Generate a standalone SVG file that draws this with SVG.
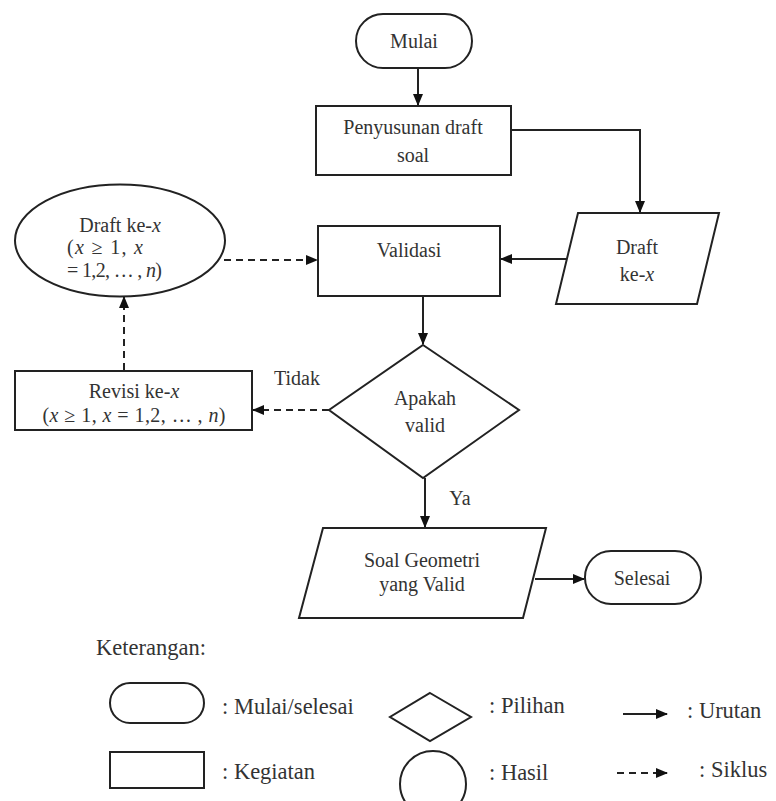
<svg xmlns="http://www.w3.org/2000/svg" width="776" height="801" viewBox="0 0 776 801">
<defs>
<style>
.s{fill:#fff;stroke:#222;stroke-width:2}
.t{font-family:'Liberation Serif','Times New Roman','DejaVu Serif',serif;font-size:20px;fill:#333;text-anchor:middle}
.l{font-family:'Liberation Serif','Times New Roman','DejaVu Serif',serif;font-size:22.5px;fill:#333}
.m{font-family:'Liberation Serif','Times New Roman','DejaVu Serif',serif;font-size:20px;fill:#333}
.i{font-style:italic}
.c{fill:none;stroke:#222;stroke-width:2}
.d{stroke-dasharray:7,5}
</style>
<marker id="a" markerUnits="userSpaceOnUse" markerWidth="12" markerHeight="12" refX="11" refY="6" orient="auto">
<path d="M0,1 L12,6 L0,11 Z" fill="#111"/>
</marker>
</defs>
<rect width="776" height="801" fill="#fff"/>

<g id="connectors">
<line class="c" x1="418" y1="68" x2="418" y2="105" marker-end="url(#a)"/>
<polyline class="c" points="511,130 640,130 640,212" marker-end="url(#a)"/>
<line class="c" x1="566" y1="259" x2="501" y2="259" marker-end="url(#a)"/>
<line class="c d" x1="224" y1="260" x2="317" y2="260" marker-end="url(#a)"/>
<line class="c" x1="423" y1="296" x2="423" y2="344" marker-end="url(#a)"/>
<line class="c d" x1="329" y1="410" x2="253" y2="410" marker-end="url(#a)"/>
<line class="c d" x1="124" y1="370" x2="124" y2="297" marker-end="url(#a)"/>
<line class="c" x1="425" y1="478" x2="425" y2="527" marker-end="url(#a)"/>
<line class="c" x1="535" y1="579" x2="584" y2="579" marker-end="url(#a)"/>
<text class="t" x="297" y="385">Tidak</text>
<text class="t" x="460" y="505">Ya</text>
</g>

<g id="mulai">
<rect class="s" x="356" y="14" width="116" height="54" rx="27"/>
<text class="t" x="414" y="48">Mulai</text>
</g>

<g id="penyusunan">
<rect class="s" x="316" y="106" width="195" height="69"/>
<text class="t" x="413" y="134">Penyusunan draft</text>
<text class="t" x="413" y="162">soal</text>
</g>

<g id="draft">
<polygon class="s" points="578,213 719,213 697,304 556,304"/>
<text class="t" x="637" y="254">Draft</text>
<text class="t" x="637" y="281">ke-<tspan class="i">x</tspan></text>
</g>

<g id="validasi">
<rect class="s" x="318" y="226" width="182" height="70"/>
<text class="t" x="409" y="257">Validasi</text>
</g>

<g id="draft-ellipse">
<ellipse class="s" cx="120" cy="240.5" rx="105" ry="56"/>
<text class="t" x="120" y="232">Draft ke-<tspan class="i">x</tspan></text>
<text class="m" x="67" y="254" textLength="76" lengthAdjust="spacing">(<tspan class="i">x</tspan> ≥ 1, <tspan class="i">x</tspan></text>
<text class="m" x="67" y="277" textLength="95" lengthAdjust="spacing">= 1,2, … , <tspan class="i">n</tspan>)</text>
</g>

<g id="apakah">
<polygon class="s" points="423,345 519,410 423,478 329,410"/>
<text class="t" x="425" y="405">Apakah</text>
<text class="t" x="425" y="432">valid</text>
</g>

<g id="revisi">
<rect class="s" x="15" y="371" width="237" height="59"/>
<text class="t" x="134" y="398">Revisi ke-<tspan class="i">x</tspan></text>
<text class="t" x="134" y="422" textLength="183" lengthAdjust="spacing">(<tspan class="i">x</tspan> ≥ 1, <tspan class="i">x</tspan> = 1,2, … , <tspan class="i">n</tspan>)</text>
</g>

<g id="soal">
<polygon class="s" points="323,528 546,528 523,618 299,618"/>
<text class="t" x="422" y="567">Soal Geometri</text>
<text class="t" x="422" y="591">yang Valid</text>
</g>

<g id="selesai">
<rect class="s" x="585" y="551" width="116" height="53" rx="26"/>
<text class="t" x="642" y="585">Selesai</text>
</g>

<g id="legend">
<text class="l" x="96" y="655" font-size="23">Keterangan:</text>
<rect class="s" x="110" y="683" width="94" height="40" rx="20"/>
<text class="l" x="222" y="714">: Mulai/selesai</text>
<rect class="s" x="110" y="752" width="94" height="36"/>
<text class="l" x="222" y="779">: Kegiatan</text>
<polygon class="s" points="430,693 471,717 430,741 390,717"/>
<text class="l" x="489" y="713">: Pilihan</text>
<circle class="s" cx="433" cy="784" r="33"/>
<text class="l" x="489" y="780">: Hasil</text>
<line class="c" x1="623" y1="714" x2="667" y2="714" marker-end="url(#a)"/>
<text class="l" x="687" y="718">: Urutan</text>
<line class="c d" x1="617" y1="773" x2="667" y2="773" marker-end="url(#a)"/>
<text class="l" x="699" y="777">: Siklus</text>
</g>
</svg>
